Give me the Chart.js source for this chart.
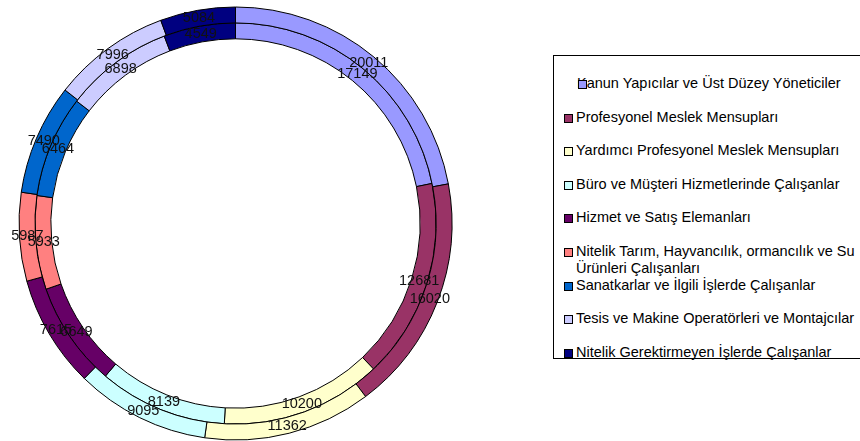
<!DOCTYPE html>
<html lang="tr">
<head>
<meta charset="utf-8">
<script src="https://cdn.jsdelivr.net/npm/chart.js@4/dist/chart.umd.min.js"></script>
<style>
  html, body { margin: 0; padding: 0; background: #fff; width: 860px; height: 441px; overflow: hidden; }
  #wrap { position: absolute; left: 0; top: 0; width: 471px; height: 447px; }
  #legend {
    position: absolute; left: 553px; top: 55px; width: 340px; height: 304px;
    border: 1px solid #000; box-sizing: border-box;
    font-family: "Liberation Sans", Arial, sans-serif; font-size: 14.5px; color: #000;
  }
  .item { position: absolute; left: 22px; width: 300px; line-height: 17px; white-space: normal; }
  .sw { position: absolute; top: 5px; width: 7px; height: 7px; border: 1px solid #000; }
</style>
</head>
<body>
<div id="wrap"><canvas id="c"></canvas></div>
<div id="legend"></div>
<script>
// Occupational groups (legend order, clockwise from 12 o'clock)
const categories = [
  "Kanun Yapıcılar ve Üst Düzey Yöneticiler",
  "Profesyonel Meslek Mensupları",
  "Yardımcı Profesyonel Meslek Mensupları",
  "Büro ve Müşteri Hizmetlerinde Çalışanlar",
  "Hizmet ve Satış Elemanları",
  "Nitelik Tarım, Hayvancılık, ormancılık ve Su Ürünleri Çalışanları",
  "Sanatkarlar ve İlgili İşlerde Çalışanlar",
  "Tesis ve Makine Operatörleri ve Montajcılar",
  "Nitelik Gerektirmeyen İşlerde Çalışanlar"
];

// Outer ring values
const outerValues = [20011, 16020, 11362, 9095, 7615, 5987, 7490, 7996, 5084];
// Inner ring values
const innerValues = [17149, 12681, 10200, 8139, 6649, 5933, 6464, 6898, 4549];

const colors = ["#9999FF", "#993366", "#FFFFCC", "#CCFFFF", "#660066",
                "#FF8080", "#0066CC", "#CCCCFF", "#000080"];

// Writes each value at the middle of its ring segment
const valueLabels = {
  id: "valueLabels",
  afterDatasetsDraw(chart) {
    const ctx = chart.ctx;
    ctx.save();
    ctx.font = "14.5px 'Liberation Sans', Arial, sans-serif";
    ctx.fillStyle = "#111";
    ctx.textAlign = "center";
    ctx.textBaseline = "middle";
    chart.data.datasets.forEach((ds, di) => {
      chart.getDatasetMeta(di).data.forEach((arc, i) => {
        const p = arc.tooltipPosition();
        ctx.fillText(String(ds.data[i]), p.x, p.y);
      });
    });
    ctx.restore();
  }
};

new Chart(document.getElementById("c"), {
  type: "doughnut",
  data: {
    labels: categories,
    datasets: [
      { data: outerValues, backgroundColor: colors, borderColor: "#000", borderWidth: 1 },
      { data: innerValues, backgroundColor: colors, borderColor: "#000", borderWidth: 1 }
    ]
  },
  options: {
    responsive: true,
    maintainAspectRatio: false,
    animation: false,
    radius: 216.5,
    cutout: "85.3%",
    layout: { padding: 0 },
    plugins: { legend: { display: false }, tooltip: { enabled: false } }
  },
  plugins: [valueLabels]
});

// Legend box
const legend = document.getElementById("legend");
categories.forEach((name, i) => {
  const item = document.createElement("div");
  item.className = "item";
  item.style.top = (19 + i * 33.6) + "px";
  const sw = document.createElement("span");
  sw.className = "sw";
  sw.style.background = colors[i];
  sw.style.left = i === 0 ? "1px" : "-12px";
  const txt = document.createElement("span");
  txt.textContent = name;
  item.appendChild(txt);
  item.appendChild(sw);
  if (i === 0) item.style.left = "23px";
  legend.appendChild(item);
});
</script>
</body>
</html>
